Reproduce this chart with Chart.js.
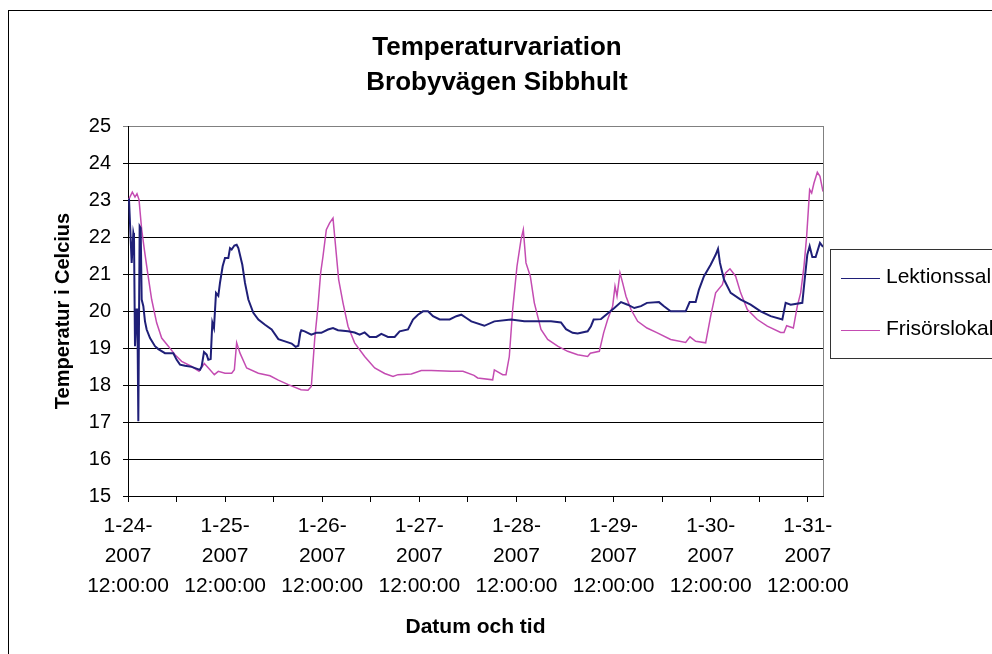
<!DOCTYPE html>
<html>
<head>
<meta charset="utf-8">
<script src="https://cdn.jsdelivr.net/npm/chart.js@4"></script>
<style>
  body { margin: 0; background: #fff; }
  #ruta { width: 992px; height: 654px; }
</style>
</head>
<body>
<div id="ruta"><canvas id="temperatur-grafik"></canvas></div>
<script>
// timmar efter 1-24-2007 12:00:00
const lektionTid = [0, 0.25, 0.91, 1.32, 1.48, 1.73, 2.14, 2.31, 2.55, 2.88, 3.13, 3.38, 3.79, 4.2, 4.61, 5.44, 6.67, 7.5, 9.14, 11.2, 12.03, 12.85, 14.09, 15.73, 17.79, 18.2, 18.78, 19.44, 19.85, 20.43, 20.84, 21.25, 21.75, 22.32, 22.73, 23.39, 23.97, 24.79, 25.21, 25.62, 26.28, 26.85, 27.27, 28.25, 28.91, 29.74, 30.97, 32.21, 33.86, 35.5, 37.15, 38.8, 40.44, 41.43, 42.09, 42.59, 42.83, 43.66, 45.3, 46.54, 47.78, 49.42, 50.66, 51.89, 54.37, 56.0, 57.25, 58.48, 59.72, 61.37, 62.6, 64.25, 65.9, 67.13, 69.19, 70.43, 71.66, 72.9, 74.14, 75.37, 77.02, 79.49, 81.14, 82.37, 83.61, 84.84, 88.06, 90.53, 94.65, 97.94, 101.24, 104.53, 107.0, 108.24, 109.88, 111.12, 113.59, 114.41, 115.07, 116.88, 118.53, 120.18, 121.83, 123.48, 125.12, 126.77, 128.25, 131.22, 132.45, 134.1, 137.81, 138.8, 140.28, 141.1, 142.34, 143.99, 145.22, 145.8, 146.29, 147.28, 148.93, 151.4, 153.87, 156.34, 158.81, 161.7, 162.52, 163.76, 166.64, 167.22, 167.87, 168.45, 169.11, 169.93, 171.0, 171.75];
const lektionssal = [23.0, 23.01, 21.3, 22.11, 22.02, 19.05, 20.04, 20.04, 17.02, 22.29, 22.24, 20.31, 20.13, 19.72, 19.5, 19.27, 19.05, 18.97, 18.86, 18.86, 18.68, 18.55, 18.52, 18.49, 18.41, 18.5, 18.89, 18.82, 18.68, 18.7, 19.69, 19.54, 20.49, 20.41, 20.76, 21.21, 21.43, 21.43, 21.7, 21.66, 21.77, 21.79, 21.7, 21.25, 20.76, 20.31, 19.95, 19.77, 19.63, 19.5, 19.24, 19.18, 19.12, 19.03, 19.06, 19.41, 19.48, 19.45, 19.36, 19.41, 19.41, 19.5, 19.54, 19.48, 19.45, 19.42, 19.36, 19.42, 19.3, 19.3, 19.38, 19.3, 19.3, 19.45, 19.5, 19.77, 19.9, 19.99, 19.99, 19.86, 19.77, 19.77, 19.86, 19.9, 19.81, 19.72, 19.6, 19.72, 19.77, 19.72, 19.72, 19.72, 19.69, 19.51, 19.41, 19.39, 19.45, 19.59, 19.77, 19.78, 19.93, 20.08, 20.24, 20.17, 20.08, 20.13, 20.22, 20.24, 20.13, 19.99, 19.99, 20.24, 20.24, 20.58, 20.94, 21.25, 21.52, 21.68, 21.3, 20.85, 20.49, 20.31, 20.17, 19.99, 19.86, 19.77, 20.22, 20.17, 20.22, 20.85, 21.52, 21.75, 21.46, 21.46, 21.84, 21.73];

const frisorTid = [0, 0.25, 1.07, 1.73, 2.22, 2.72, 3.38, 4.04, 4.86, 5.85, 7.08, 8.32, 9.97, 11.61, 13.26, 15.73, 17.55, 18.86, 20.26, 21.33, 22.32, 23.97, 25.62, 26.28, 26.85, 27.68, 29.32, 32.21, 35.09, 37.15, 39.62, 42.75, 44.48, 45.3, 46.13, 46.95, 47.61, 48.19, 49.01, 49.84, 50.66, 51.07, 52.06, 53.13, 54.37, 56.0, 58.48, 60.96, 63.43, 65.49, 66.72, 70.02, 72.49, 74.96, 79.9, 82.78, 85.5, 86.41, 90.12, 90.53, 92.59, 93.41, 94.23, 95.06, 96.13, 97.12, 97.69, 98.35, 99.42, 100.41, 102.06, 103.71, 106.18, 108.65, 111.12, 113.59, 114.25, 116.47, 117.54, 118.53, 119.77, 120.35, 120.84, 121.58, 122.24, 123.06, 124.3, 125.95, 128.25, 130.81, 134.1, 137.81, 138.88, 140.28, 142.75, 143.99, 145.22, 146.87, 147.69, 148.76, 150.16, 151.4, 153.05, 155.52, 157.99, 161.29, 162.11, 162.77, 164.42, 165.4, 166.23, 167.05, 167.71, 168.45, 168.95, 169.52, 170.35, 171.0, 171.75];
const frisorslokal = [23.0, 23.03, 23.21, 23.08, 23.17, 23.01, 22.2, 21.66, 21.03, 20.31, 19.68, 19.27, 19.05, 18.82, 18.64, 18.5, 18.37, 18.58, 18.41, 18.28, 18.37, 18.32, 18.32, 18.41, 19.14, 18.86, 18.46, 18.32, 18.25, 18.13, 18.01, 17.87, 17.86, 17.96, 19.23, 20.13, 21.03, 21.48, 22.2, 22.38, 22.51, 22.02, 20.85, 20.22, 19.59, 19.14, 18.77, 18.46, 18.31, 18.23, 18.28, 18.3, 18.39, 18.39, 18.37, 18.37, 18.26, 18.19, 18.14, 18.41, 18.28, 18.28, 18.77, 20.04, 21.21, 21.93, 22.2, 21.3, 20.94, 20.22, 19.5, 19.23, 19.05, 18.91, 18.82, 18.77, 18.86, 18.91, 19.41, 19.77, 20.13, 20.67, 20.4, 21.03, 20.76, 20.4, 20.04, 19.72, 19.54, 19.41, 19.23, 19.15, 19.3, 19.18, 19.14, 19.86, 20.49, 20.71, 21.03, 21.14, 20.94, 20.49, 20.04, 19.77, 19.59, 19.42, 19.42, 19.6, 19.54, 20.13, 20.49, 21.21, 22.02, 23.28, 23.19, 23.46, 23.75, 23.64, 23.23];

const datumEtiketter = [
    ['1-24-', '2007', '12:00:00'],
    ['1-25-', '2007', '12:00:00'],
    ['1-26-', '2007', '12:00:00'],
    ['1-27-', '2007', '12:00:00'],
    ['1-28-', '2007', '12:00:00'],
    ['1-29-', '2007', '12:00:00'],
    ['1-30-', '2007', '12:00:00'],
    ['1-31-', '2007', '12:00:00']
];
const rubrik = ['Temperaturvariation', 'Brobyvägen Sibbhult'];

const punkter = (tid, temp) => tid.map((t, i) => ({ x: t, y: temp[i] }));

// ram, rubrik och förklaring ritas för hand som i Excel
const excelRam = {
    id: 'excelRam',
    beforeDraw(chart) {
        const { ctx, chartArea: a } = chart;
        ctx.save();
        ctx.fillStyle = '#fff';
        ctx.fillRect(0, 0, chart.width, chart.height);
        ctx.strokeStyle = '#000';
        ctx.lineWidth = 1;
        ctx.strokeRect(8.5, 10.5, 1200, 1000);

        ctx.strokeStyle = '#808080';
        ctx.beginPath();
        ctx.moveTo(Math.round(a.right) + 0.5, a.top);
        ctx.lineTo(Math.round(a.right) + 0.5, a.bottom);
        ctx.stroke();

        ctx.fillStyle = '#000';
        ctx.font = 'bold 26px Arial, "Liberation Sans", sans-serif';
        ctx.textAlign = 'center';
        ctx.textBaseline = 'middle';
        rubrik.forEach((rad, i) => ctx.fillText(rad, 497, 48 + i * 35));
        ctx.restore();
    },
    afterDraw(chart) {
        const { ctx } = chart;
        ctx.save();
        ctx.strokeStyle = '#333';
        ctx.lineWidth = 1;
        ctx.strokeRect(830.5, 249.5, 300, 109);
        ctx.font = '21px Arial, "Liberation Sans", sans-serif';
        ctx.textAlign = 'left';
        ctx.textBaseline = 'middle';
        chart.data.datasets.forEach((ds, i) => {
            const y = 278.5 + i * 52;
            ctx.strokeStyle = ds.borderColor;
            ctx.lineWidth = 1.2;
            ctx.beginPath();
            ctx.moveTo(841, y);
            ctx.lineTo(880, y);
            ctx.stroke();
            ctx.fillStyle = '#000';
            ctx.fillText(ds.label, 886, y - 1);
        });
        ctx.restore();
    }
};

Chart.defaults.font.family = 'Arial, "Liberation Sans", sans-serif';
Chart.defaults.color = '#000';

const ctx = document.getElementById('temperatur-grafik');
new Chart(ctx, {
    type: 'line',
    data: {
        datasets: [{
            label: 'Lektionssal',
            data: punkter(lektionTid, lektionssal),
            borderColor: '#1f1f78',
            borderWidth: 2
        }, {
            label: 'Frisörslokal',
            data: punkter(frisorTid, frisorslokal),
            borderColor: '#c44cb2',
            borderWidth: 1.5
        }]
    },
    options: {
        responsive: true,
        maintainAspectRatio: false,
        animation: false,
        layout: {
            padding: { top: 126, right: 169, left: 0, bottom: 0 }
        },
        elements: {
            point: { radius: 0 },
            line: { tension: 0 }
        },
        scales: {
            x: {
                type: 'linear',
                min: 0,
                max: 171.75,
                afterFit(scale) { scale.height = 158; },
                border: { color: '#000', width: 1 },
                grid: {
                    drawOnChartArea: false,
                    color: '#000',
                    tickLength: 6
                },
                ticks: {
                    stepSize: 12,
                    includeBounds: false,
                    autoSkip: false,
                    maxRotation: 0,
                    padding: 9,
                    font: { size: 21, lineHeight: 1.43 },
                    callback: v => (v % 24 === 0 ? datumEtiketter[v / 24] : '')
                },
                title: {
                    display: true,
                    text: 'Datum och tid',
                    font: { size: 21, weight: 'bold' },
                    padding: { top: 0, bottom: 14 }
                }
            },
            y: {
                min: 15,
                max: 25,
                afterFit(scale) { scale.width = 128; },
                border: { color: '#000', width: 1 },
                grid: {
                    color: c => (c.tick && c.tick.value === 25 ? '#808080' : '#000'),
                    tickLength: 5
                },
                ticks: {
                    stepSize: 1,
                    padding: 12,
                    font: { size: 20 }
                },
                title: {
                    display: true,
                    text: 'Temperatur i Celcius',
                    font: { size: 20, weight: 'bold' },
                    padding: { top: 51, bottom: 0 }
                }
            }
        },
        plugins: {
            legend: { display: false },
            tooltip: { enabled: false }
        }
    },
    plugins: [excelRam]
});
</script>
</body>
</html>
